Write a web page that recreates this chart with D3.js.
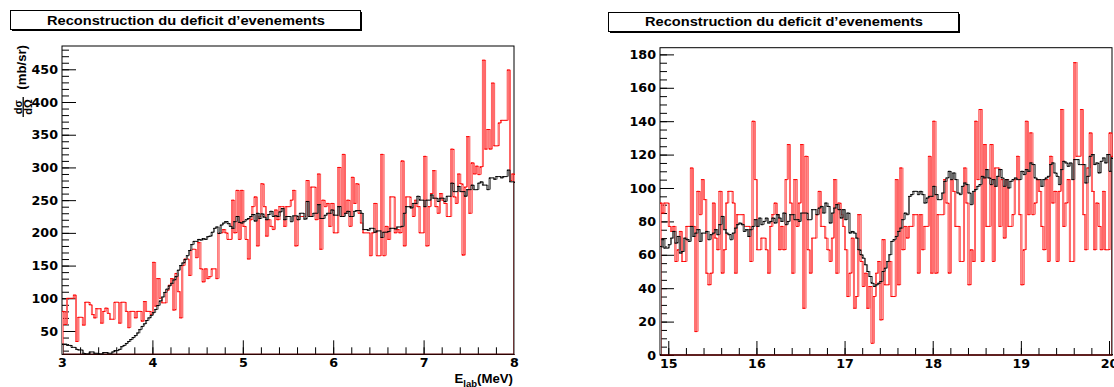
<!DOCTYPE html>
<html><head><meta charset="utf-8">
<script src="https://cdn.jsdelivr.net/npm/d3@7"></script>
<style>
body{margin:0;background:#fff;}
svg{display:block;}
</style>
</head><body><svg id="c" width="1114" height="387"></svg>
<script>
// ---------------- data ----------------
const titleText = "Reconstruction du deficit d\u2019evenements";
const leftBinStart = 3, leftBinWidth = 0.025;
const leftRed = [
80,60,100,100,100,105,34,71,71,59,
94,94,90,75,70,84,84,62,80,85,
77,68,68,94,94,62,94,94,80,55,
80,80,70,80,80,65,95,80,80,75,
155,88,130,100,93,93,112,120,130,82,
138,110,70,150,160,160,135,175,175,162,
185,145,125,145,130,133,145,145,130,200,
200,205,200,190,190,250,200,265,190,265,
210,190,160,220,240,255,180,225,275,240,
195,220,210,205,235,220,240,240,210,240,
240,250,265,180,225,225,225,225,280,225,
270,270,220,290,175,250,240,245,210,245,
200,200,300,225,320,230,250,210,285,245,
275,230,215,200,200,200,165,200,245,165,
165,320,165,210,190,255,255,200,205,200,
310,180,255,255,240,225,250,240,200,200,
317,180,240,260,295,240,230,260,250,245,
225,225,328,255,245,290,275,166,270,347,
230,307,290,302,289,301,464,328,358,328,
429,333,333,368,372,372,372,449,280,290];
const leftBlack = [
30,30,28,28,25,25,22,21,21,16,
15,15,18,18,16,16,15,15,17,17,
16,16,18,20,20,22,26,28,31,34,
37,40,43,47,52,57,61,66,70,74,
78,83,89,96,102,109,114,119,123,128,
133,143,150,154,159,165,173,182,187,187,
190,189,191,190,194,195,201,207,209,199,
212,215,217,214,210,207,217,225,216,215,
217,220,222,225,228,218,230,222,229,224,
220,228,233,225,226,225,232,237,220,225,
225,217,226,226,220,230,230,221,248,225,
225,230,230,243,222,222,227,230,230,235,
227,227,240,225,225,230,233,225,225,233,
234,234,230,205,205,204,207,207,201,203,
203,193,201,201,202,207,207,206,209,209,
210,230,240,240,238,245,245,256,250,250,
240,250,250,258,253,253,248,253,253,248,
256,256,276,263,263,271,263,263,256,266,
266,273,266,266,276,278,273,273,266,284,
284,282,286,286,284,286,286,296,278,278];
const rightBinStart = 14.9, rightBinWidth = 0.025;
const rightRed = [
91,85,91,91,77,74,77,56,63,74,
56,56,77,77,112,77,14,98,84,105,
93,49,42,49,91,70,63,98,49,63,
91,98,98,91,49,84,84,84,77,77,
77,56,140,105,63,63,70,70,63,49,
77,84,91,84,63,77,63,105,126,91,
49,105,77,91,126,28,119,63,49,70,
70,84,98,77,77,70,63,56,70,105,
49,91,84,77,63,35,49,70,28,35,
84,56,41,49,28,41,7,35,49,56,
21,69,42,42,56,35,35,105,42,112,
63,77,70,77,77,84,84,49,84,63,
77,77,119,49,140,49,84,84,84,105,
91,49,105,98,77,77,56,56,112,91,
42,63,56,140,105,147,56,126,77,77,
126,56,112,112,77,105,70,105,77,77,
84,105,119,84,42,63,140,84,133,84,
91,105,98,77,63,105,56,119,91,98,
56,98,147,77,91,105,56,56,175,119,
119,147,84,63,112,133,98,63,91,77,
63,98,63,63,133,119];
const rightBlack = [
65,69,64,64,66,70,74,67,71,61,
62,70,69,68,77,71,73,75,68,73,
73,74,69,72,73,75,72,78,83,75,
73,72,69,73,76,78,79,78,74,75,
71,75,77,81,77,82,78,80,82,79,
80,82,79,84,82,80,85,78,80,84,
84,81,81,80,85,85,85,81,81,87,
87,84,88,89,85,91,89,79,85,88,
90,87,82,87,81,85,73,74,73,70,
63,60,58,54,50,47,43,41,42,43,
44,50,52,56,60,68,69,71,74,76,
81,85,84,95,96,98,98,96,98,96,
91,94,95,95,101,96,93,93,97,104,
106,110,105,109,105,97,96,101,103,102,
97,90,98,99,101,102,107,106,111,106,
102,105,101,107,111,106,101,105,100,104,
105,106,105,105,110,108,111,110,115,114,
106,105,105,101,105,106,107,114,115,109,
107,102,111,116,115,113,115,105,117,117,
114,114,114,103,107,119,120,114,115,109,
116,118,115,120,110,118];
const leftXTicks = [3,4,5,6,7,8];
const leftYTicks = [50,100,150,200,250,300,350,400,450];
const rightXTicks = [15,16,17,18,19,20];
const rightYTicks = [0,20,40,60,80,100,120,140,160,180];

// ---------------- drawing ----------------
const svg = d3.select("#c");
const LABEL_FONT = "'DejaVu Sans', Verdana, sans-serif";
const TITLE_FONT = "'Liberation Sans', Arial, Helvetica, sans-serif";

function titleBox(x, y, w, h, cx, by) {
  svg.append("rect").attr("x", x + 2).attr("y", y + 2).attr("width", w).attr("height", h).attr("fill", "#000");
  svg.append("rect").attr("x", x + 0.5).attr("y", y + 0.5).attr("width", w).attr("height", h)
    .attr("fill", "#fff").attr("stroke", "#000").attr("stroke-width", 1);
  svg.append("text").attr("x", cx).attr("y", by).attr("text-anchor", "middle")
    .attr("font-family", TITLE_FONT).attr("font-weight", "bold").attr("font-size", 13.2)
    .attr("textLength", 278).attr("lengthAdjust", "spacingAndGlyphs")
    .attr("fill", "#000").text(titleText);
}

function drawHist(g, x, y, start, width, values, line, fill, base) {
  const [d0, d1] = x.domain();
  const bins = values.map((v, i) => [Math.max(d0, start + i * width), Math.min(d1, start + (i + 1) * width), v])
    .filter(b => b[1] > b[0]);
  const verts = [[bins[0][0], base, bins[0][2]]];
  for (let i = 1; i < bins.length; i++) verts.push([bins[i][0], bins[i - 1][2], bins[i][2]]);
  verts.push([bins[bins.length - 1][1], bins[bins.length - 1][2], base]);
  g.append("g").selectAll("rect").data(verts).join("rect")
    .attr("x", d => x(d[0]) - 0.2).attr("width", 1.4)
    .attr("y", d => Math.min(y(d[1]), y(d[2])))
    .attr("height", d => Math.abs(y(d[1]) - y(d[2])))
    .attr("fill", fill).attr("stroke", line).attr("stroke-width", 0.45);
  const p = d3.path();
  bins.forEach(([a, b, v]) => { p.moveTo(x(a), y(v)); p.lineTo(x(b) + 0.2, y(v)); });
  p.moveTo(x(bins[0][0]), y(base)); p.lineTo(x(bins[bins.length - 1][1]), y(base));
  g.append("path").attr("d", p.toString()).attr("fill", "none")
    .attr("stroke", line).attr("stroke-width", 1);
}

function styleAxis(g) {
  g.select(".domain").remove();
  g.selectAll(".tick line").attr("stroke", "#000").attr("stroke-width", 1);
  g.selectAll(".tick text").attr("font-family", LABEL_FONT).attr("font-weight", "bold")
    .attr("font-size", 12.7).attr("fill", "#000");
}

function panel(cfg) {
  const x = d3.scaleLinear().domain(cfg.xDomain).range([cfg.x0, cfg.x1]);
  const y = d3.scaleLinear().domain(cfg.yDomain).range([cfg.y1, cfg.y0]);
  const g = svg.append("g");
  const id = "clip" + cfg.name;
  svg.append("defs").append("clipPath").attr("id", id).append("rect")
    .attr("x", cfg.x0).attr("y", cfg.y0).attr("width", cfg.x1 - cfg.x0 + 1).attr("height", cfg.y1 - cfg.y0 + 1);

  // frame
  g.append("rect").attr("x", cfg.x0).attr("y", cfg.y0).attr("width", cfg.x1 - cfg.x0)
    .attr("height", cfg.y1 - cfg.y0).attr("fill", "#fff").attr("stroke", "#000").attr("stroke-width", 1);

  // axes (ticks point inwards, ROOT style)
  const gx = g.append("g").attr("transform", `translate(0,${cfg.y1})`);
  gx.append("g").call(d3.axisBottom(x).tickValues(cfg.xMinor).tickSize(-7).tickFormat("")).call(styleAxis);
  gx.append("g").call(d3.axisBottom(x).tickValues(cfg.xTicks).tickSize(-14).tickPadding(4)
    .tickFormat(d3.format("d"))).call(styleAxis);
  const gy = g.append("g").attr("transform", `translate(${cfg.x0},0)`);
  gy.append("g").call(d3.axisLeft(y).tickValues(cfg.yMinor).tickSize(-7).tickFormat("")).call(styleAxis);
  gy.append("g").call(d3.axisLeft(y).tickValues(cfg.yTicks).tickSize(-14).tickPadding(4)
    .tickFormat(d3.format("d"))).call(styleAxis);

  // histograms
  const hg = g.append("g").attr("clip-path", `url(#${id})`);
  const base = Math.max(0, cfg.yDomain[0]);
  drawHist(hg, x, y, cfg.start, cfg.width, cfg.red, "#ff0000", "#ff9c9c", base);
  drawHist(hg, x, y, cfg.start, cfg.width, cfg.black, "#000000", "#9a9a9a", base);
  return { x, y };
}

titleBox(10, 10, 350, 19, 186, 24.5);
titleBox(608, 12, 350, 19, 784, 26);

const range = (a, b, s) => d3.range(Math.round((b - a) / s) + 1).map(k => +(a + k * s).toFixed(3));

panel({
  name: "L", x0: 62, x1: 514, y0: 46, y1: 354.3,
  xDomain: [3, 8], yDomain: [14.4, 485.6],
  xTicks: leftXTicks, xMinor: range(3, 8, 0.2),
  yTicks: leftYTicks, yMinor: range(20, 480, 10),
  start: leftBinStart, width: leftBinWidth, red: leftRed, black: leftBlack
});
panel({
  name: "R", x0: 660, x1: 1112, y0: 47.7, y1: 355,
  xDomain: [14.906, 20.034], yDomain: [0, 184],
  xTicks: rightXTicks, xMinor: range(15, 20, 0.2),
  yTicks: rightYTicks, yMinor: range(0, 180, 5),
  start: rightBinStart, width: rightBinWidth, red: rightRed, black: rightBlack
});

// y-axis title (left panel): d sigma / d Omega (mb/sr), rotated
const yt = svg.append("g").attr("transform", "translate(26,0) rotate(-90)")
  .attr("font-family", TITLE_FONT).attr("font-weight", "bold").attr("fill", "#000");
yt.append("text").attr("x", -45).attr("y", 0).attr("text-anchor", "end").attr("font-size", 13.2).text("(mb/sr)");
yt.append("text").attr("x", -107).attr("y", -4.5).attr("text-anchor", "middle").attr("font-size", 11).text("d\u03C3");
yt.append("text").attr("x", -107).attr("y", 5.5).attr("text-anchor", "middle").attr("font-size", 11).text("d\u03A9");
yt.append("line").attr("x1", -117).attr("x2", -97).attr("y1", -2.8).attr("y2", -2.8).attr("stroke", "#000").attr("stroke-width", 1.3);

// x-axis title (left panel): E_lab(MeV)
const xt = svg.append("text").attr("x", 513).attr("y", 382.5).attr("text-anchor", "end")
  .attr("font-family", TITLE_FONT).attr("font-weight", "bold").attr("font-size", 13.2).attr("fill", "#000");
xt.append("tspan").text("E");
xt.append("tspan").attr("font-size", 9.5).attr("dy", 4).text("lab");
xt.append("tspan").attr("dy", -4).text("(MeV)");
</script>
</body></html>
